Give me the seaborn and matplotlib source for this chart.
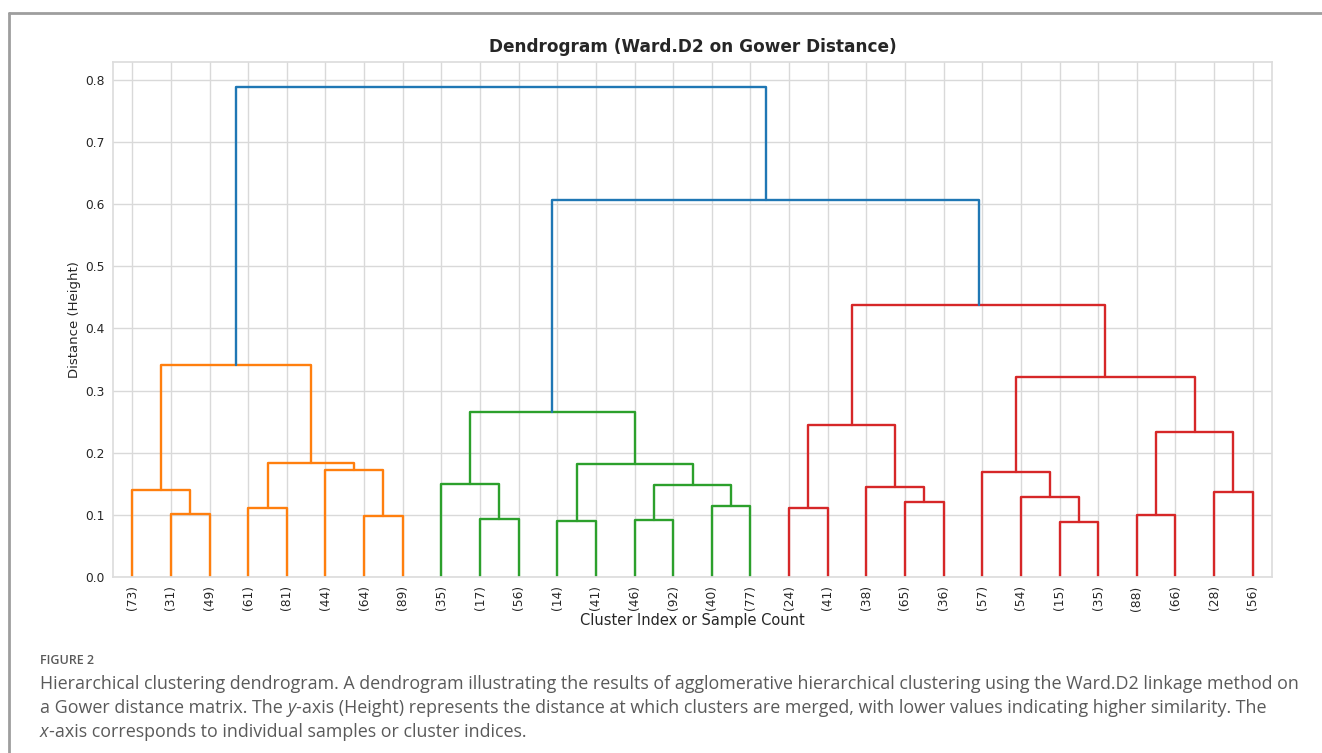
import matplotlib
matplotlib.use("Agg")
import matplotlib.pyplot as plt
import seaborn as sns
import pandas as pd
import numpy as np

# ---------------- data ----------------
leaf_labels = ["(73)", "(31)", "(49)", "(61)", "(81)", "(44)", "(64)", "(89)",
               "(35)", "(17)", "(56)", "(14)", "(41)", "(46)", "(92)", "(40)", "(77)",
               "(24)", "(41)", "(38)", "(65)", "(36)", "(57)", "(54)", "(15)", "(35)",
               "(88)", "(66)", "(28)", "(56)"]

# merges: node ids 0..29 are leaves (display order), merged nodes numbered from 30
merge_left = [1, 0, 3, 6, 5, 32, 31,
              9, 8, 11, 13, 15, 40, 39, 38,
              17, 20, 19, 45, 24, 23, 22, 26, 28, 52, 51, 48,
              44, 36]
merge_right = [2, 30, 4, 7, 33, 34, 35,
               10, 37, 12, 14, 16, 41, 42, 43,
               18, 21, 46, 47, 25, 49, 50, 27, 29, 53, 54, 55,
               56, 57]
merge_height = [0.101, 0.140, 0.111, 0.098, 0.172, 0.184, 0.341,
                0.093, 0.149, 0.090, 0.091, 0.115, 0.148, 0.181, 0.265,
                0.111, 0.121, 0.145, 0.244, 0.089, 0.128, 0.169, 0.100, 0.136, 0.234, 0.322, 0.437,
                0.606, 0.789]
merge_cluster = ["C1"] * 7 + ["C2"] * 8 + ["C3"] * 12 + ["C0"] * 2

cluster_colors = {"C0": "#1f77b4", "C1": "#ff7f0e", "C2": "#2ca02c", "C3": "#d62728"}

# ---------------- build link segments ----------------
n_leaves = len(leaf_labels)
node_x = {i: 5 + 10 * i for i in range(n_leaves)}
node_h = {i: 0.0 for i in range(n_leaves)}
rows = []
for k, (a, b, h, c) in enumerate(zip(merge_left, merge_right, merge_height, merge_cluster)):
    nid = n_leaves + k
    xa, xb = node_x[a], node_x[b]
    pts = [(xa, node_h[a]), (xa, h), (xb, h), (xb, node_h[b])]
    for order, (px, py) in enumerate(pts):
        rows.append({"link": k, "order": order, "x": px, "y": py, "cluster": c})
    node_x[nid] = (xa + xb) / 2
    node_h[nid] = h
links = pd.DataFrame(rows)

# ---------------- plot ----------------
sns.set_theme(style="whitegrid")
plt.rcParams["font.family"] = ["DejaVu Sans"]
W, H = 1322, 753
fig = plt.figure(figsize=(W / 100, H / 100), dpi=100)
ax = fig.add_axes([113 / W, 1 - 577 / H, (1272 - 113) / W, (577 - 62) / H])

sns.lineplot(data=links, x="x", y="y", units="link", estimator=None, sort=False,
             hue="cluster", palette=cluster_colors, linewidth=1.7, legend=False, ax=ax)

ax.set_xlim(0, 10 * n_leaves)
ax.set_ylim(0, max(merge_height) * 1.05)
ax.set_xticks([5 + 10 * i for i in range(n_leaves)])
ax.set_xticklabels(leaf_labels, rotation=90, fontsize=8.8, color="#262626")
ax.set_yticks(np.arange(0, 0.81, 0.1))
ax.set_yticklabels([f"{v:.1f}" for v in np.arange(0, 0.81, 0.1)], fontsize=8.8, color="#262626")
ax.tick_params(axis="both", length=0, pad=6)
for s in ax.spines.values():
    s.set_color("#dddddd")
ax.grid(True, color="#d9d9d9", linewidth=1.0)
ax.set_title("Dendrogram (Ward.D2 on Gower Distance)", fontsize=12.2, fontweight="bold",
             color="#262626", pad=7)
ax.set_xlabel("Cluster Index or Sample Count", fontsize=10.5, color="#262626", labelpad=2)
ax.set_ylabel("Distance (Height)", fontsize=9.5, color="#262626", labelpad=3)

# ---------------- frame + caption ----------------
fig.add_artist(plt.Line2D([9 / W, 1], [1 - 13 / H, 1 - 13 / H], color="#9e9e9e", lw=2))
fig.add_artist(plt.Line2D([9 / W, 9 / W], [0, 1 - 13 / H], color="#9e9e9e", lw=2))

cap_font = ["Open Sans", "DejaVu Sans"]
cap_color = "#5a5a5a"
fig.text(40 / W, 1 - 660 / H, "FIGURE 2", fontsize=9, color=cap_color,
         family=cap_font, fontweight="semibold", va="center")

caption_lines = [
    [("Hierarchical clustering dendrogram. A dendrogram illustrating the results of agglomerative "
      "hierarchical clustering using the Ward.D2 linkage method on", "normal")],
    [("a Gower distance matrix. The ", "normal"), ("y", "italic"),
     ("-axis (Height) represents the distance at which clusters are merged, with lower values "
      "indicating higher similarity. The", "normal")],
    [("x", "italic"), ("-axis corresponds to individual samples or cluster indices.", "normal")],
]
caption_y = [684, 708, 732]

renderer = fig.canvas.get_renderer()
probe = fig.text(0, 0, caption_lines[0][0][0], fontsize=11, family=cap_font)
w0 = probe.get_window_extent(renderer).width
probe.remove()
cap_size = 11 * (1301 - 40) / w0

for runs, yy in zip(caption_lines, caption_y):
    xpix = 40
    for txt, style in runs:
        t = fig.text(xpix / W, 1 - yy / H, txt, fontsize=cap_size, family=cap_font,
                     style=style, color=cap_color, va="center")
        xpix += t.get_window_extent(renderer).width

fig.savefig("out.png", dpi=100)
